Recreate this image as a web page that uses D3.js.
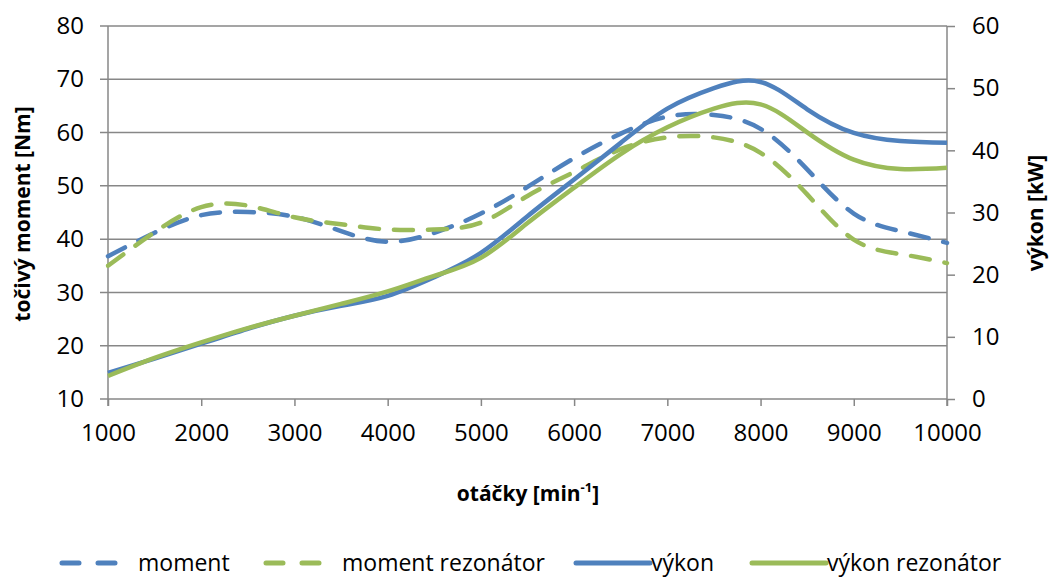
<!DOCTYPE html>
<html>
<head>
<meta charset="utf-8">
<script src="https://cdn.jsdelivr.net/npm/d3@7"></script>
<style>
  body { margin: 0; background: #fff; }
  text { font-family: "Open Sans", sans-serif; fill: #000; }
</style>
</head>
<body>
<div id="chart"></div>
<script>
// otáčky [min-1]
const rpm = [1000, 1500, 2000, 2500, 3000, 3500, 4000, 4500, 5000, 5500,
             6000, 6500, 7000, 7500, 8000, 8500, 9000, 9500, 10000];

// točivý moment [Nm]
const moment = [36.8, 41.2, 44.5, 45.1, 44.2, 41.5, 39.5, 41.2, 44.8, 49.8,
                55.2, 59.8, 63.0, 63.3, 60.7, 53.1, 44.8, 41.5, 39.3];
const momentRez = [35.0, 41.3, 46.0, 46.3, 44.1, 42.8, 41.8, 41.8, 43.1, 48.1,
                   52.6, 56.9, 59.1, 59.1, 56.2, 48.4, 39.9, 37.2, 35.5];

// výkon [kW]
const vykon = [4.2, 6.5, 8.9, 11.3, 13.4, 15.0, 16.6, 19.6, 23.5, 29.4,
               35.3, 41.2, 46.7, 50.0, 51.0, 46.6, 42.8, 41.5, 41.2];
const vykonRez = [3.7, 6.6, 9.1, 11.4, 13.4, 15.3, 17.3, 19.8, 22.7, 28.3,
                  34.0, 39.4, 43.7, 46.7, 47.4, 42.9, 38.5, 37.0, 37.2];

const xTicks = [1000, 2000, 3000, 4000, 5000, 6000, 7000, 8000, 9000, 10000];
const leftTicks = [10, 20, 30, 40, 50, 60, 70, 80];
const rightTicks = [0, 10, 20, 30, 40, 50, 60];

const series = [
    { name: 'moment', values: moment, axis: 'left', color: '#4F81BD', dashed: true },
    { name: 'moment rezonátor', values: momentRez, axis: 'left', color: '#9BBB59', dashed: true },
    { name: 'výkon', values: vykon, axis: 'right', color: '#4F81BD', dashed: false },
    { name: 'výkon rezonátor', values: vykonRez, axis: 'right', color: '#9BBB59', dashed: false }
];

const width = 1051, height = 578;
const plot = { left: 108, right: 947, top: 26, bottom: 399 };
const gridColor = '#878787';

const svg = d3.select('#chart').append('svg')
    .attr('width', width)
    .attr('height', height);

const x = d3.scaleLinear().domain([1000, 10000]).range([plot.left, plot.right]);
const yLeft = d3.scaleLinear().domain([10, 80]).range([plot.bottom, plot.top]);
const yRight = d3.scaleLinear().domain([0, 60]).range([plot.bottom, plot.top]);

// gridlines (left axis values)
svg.append('g')
    .selectAll('line')
    .data(leftTicks)
    .enter()
    .append('line')
    .attr('x1', plot.left - 8)
    .attr('x2', plot.right)
    .attr('y1', d => yLeft(d))
    .attr('y2', d => yLeft(d))
    .attr('stroke', gridColor)
    .attr('stroke-width', 1.5);

// left axis
const leftAxis = svg.append('g')
    .attr('transform', `translate(${plot.left},0)`)
    .call(d3.axisLeft(yLeft).tickValues(leftTicks).tickSize(0).tickPadding(12));
leftAxis.select('.domain').remove();
leftAxis.append('line')
    .attr('x1', 0).attr('x2', 0)
    .attr('y1', plot.top).attr('y2', plot.bottom + 7)
    .attr('stroke', gridColor).attr('stroke-width', 1.5);
leftAxis.selectAll('text')
    .attr('font-size', 24)
    .attr('font-family', '"Open Sans", sans-serif')
    .attr('fill', '#000')
    .attr('dx', -12);

// right axis
const rightAxis = svg.append('g')
    .attr('transform', `translate(${plot.right},0)`)
    .call(d3.axisRight(yRight).tickValues(rightTicks).tickSize(8).tickPadding(17));
rightAxis.select('.domain').remove();
rightAxis.selectAll('.tick line').attr('stroke', gridColor).attr('stroke-width', 1.5);
rightAxis.append('line')
    .attr('x1', 0).attr('x2', 0)
    .attr('y1', plot.top).attr('y2', plot.bottom + 7)
    .attr('stroke', gridColor).attr('stroke-width', 1.5);
rightAxis.selectAll('text')
    .attr('font-size', 24)
    .attr('font-family', '"Open Sans", sans-serif')
    .attr('fill', '#000');

// bottom axis
const bottomAxis = svg.append('g')
    .attr('transform', `translate(0,${plot.bottom})`)
    .call(d3.axisBottom(x).tickValues(xTicks).tickFormat(d3.format('d')).tickSize(7).tickPadding(18));
bottomAxis.select('.domain').remove();
bottomAxis.selectAll('.tick line').attr('stroke', gridColor).attr('stroke-width', 1.5);
bottomAxis.selectAll('text')
    .attr('font-size', 24)
    .attr('font-family', '"Open Sans", sans-serif')
    .attr('fill', '#000');

// axis titles
svg.append('text')
    .attr('transform', 'translate(30,214) rotate(-90)')
    .attr('text-anchor', 'middle')
    .attr('font-size', 21)
    .attr('font-weight', 'bold')
    .text('točivý moment [Nm]');

svg.append('text')
    .attr('transform', 'translate(1043,213) rotate(-90)')
    .attr('text-anchor', 'middle')
    .attr('font-size', 21)
    .attr('font-weight', 'bold')
    .text('výkon [kW]');

const xTitle = svg.append('text')
    .attr('x', 528)
    .attr('y', 501)
    .attr('text-anchor', 'middle')
    .attr('font-size', 21)
    .attr('font-weight', 'bold');
xTitle.append('tspan').text('otáčky [min');
xTitle.append('tspan').attr('font-size', 13).attr('dy', -9).text('-1');
xTitle.append('tspan').attr('dy', 9).text(']');

// lines
const lineGroup = svg.append('g');
series.forEach(s => {
    const yScale = s.axis === 'left' ? yLeft : yRight;
    const line = d3.line()
        .x((d, i) => x(rpm[i]))
        .y(d => yScale(d))
        .curve(d3.curveNatural);
    lineGroup.append('path')
        .datum(s.values)
        .attr('d', line)
        .attr('fill', 'none')
        .attr('stroke', s.color)
        .attr('stroke-width', 4.5)
        .attr('stroke-linecap', s.dashed ? 'round' : 'butt')
        .attr('stroke-linejoin', 'round')
        .attr('stroke-dasharray', s.dashed ? '19,15' : null);
});

// legend
const legendX = [60, 264, 576, 752];
const legendY = 563;
const legend = svg.append('g');
series.forEach((s, i) => {
    const g = legend.append('g').attr('transform', `translate(${legendX[i]},${legendY})`);
    if (s.dashed) {
        g.append('line')
            .attr('x1', 2).attr('x2', 58)
            .attr('stroke', s.color)
            .attr('stroke-width', 5)
            .attr('stroke-linecap', 'round')
            .attr('stroke-dasharray', '17,19');
        g.append('text').attr('x', 78).attr('y', 8).attr('font-size', 23).text(s.name);
    } else {
        g.append('line')
            .attr('x1', 0).attr('x2', 74)
            .attr('stroke', s.color)
            .attr('stroke-width', 5)
            .attr('stroke-linecap', 'round');
        g.append('text').attr('x', 75).attr('y', 8).attr('font-size', 23).text(s.name);
    }
});
</script>
</body>
</html>
